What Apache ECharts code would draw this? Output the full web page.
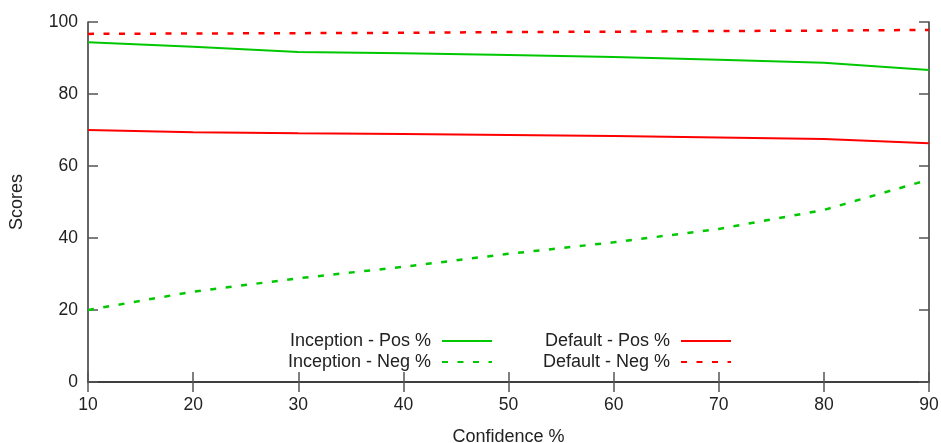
<!DOCTYPE html>
<html>
<head>
<meta charset="utf-8">
<script src="https://cdn.jsdelivr.net/npm/echarts@6/dist/echarts.min.js"></script>
<style>
  html, body { margin: 0; padding: 0; background: #fff; }
  #chart { width: 941px; height: 443px; }
</style>
</head>
<body>
<div id="chart"></div>
<script>
// confidence thresholds (x)
var confidence = [10, 20, 30, 40, 50, 60, 70, 80, 90];
// scores
var inceptionPos = [94.4, 93.1, 91.7, 91.3, 90.8, 90.3, 89.5, 88.7, 86.7];
var inceptionNeg = [20.0, 25.1, 28.8, 32.0, 35.6, 38.8, 42.5, 47.8, 56.2];
var defaultPos = [70.0, 69.4, 69.1, 68.9, 68.6, 68.3, 67.9, 67.5, 66.3];
var defaultNeg = [96.7, 96.8, 96.9, 97.0, 97.2, 97.3, 97.5, 97.6, 97.8];

var GREEN = "#00c800";
var RED = "#ff0000";
var FONT = "Liberation Sans";

function pairs(ys) {
  return confidence.map(function (x, i) { return [x, ys[i]]; });
}

function makeSeries(name, ys, color, dashed) {
  return {
    name: name,
    type: "line",
    data: pairs(ys),
    symbol: "none",
    smooth: false,
    xAxisIndex: 0,
    yAxisIndex: 0,
    lineStyle: {
      color: color,
      width: dashed ? 2.5 : 2,
      type: dashed ? [6, 9.5] : "solid",
    },
    itemStyle: { color: color },
  };
}

var axisLine = { show: true, lineStyle: { color: "#333", width: 1.5 } };
var axisTick = { show: true, inside: true, length: 10, lineStyle: { color: "#555", width: 1.5 } };

function legendBlock(names, right) {
  return {
    orient: "vertical",
    align: "right",
    right: right,
    top: 327,
    data: names,
    itemWidth: 50,
    itemHeight: 14,
    itemGap: 3,
    itemStyle: { opacity: 0 },
    formatter: "{a|{name}}",
    textStyle: {
      fontFamily: FONT,
      fontSize: 18,
      color: "#222",
      rich: { a: { fontFamily: FONT, fontSize: 18, color: "#222", padding: [0, 6, 0, 0] } },
    },
  };
}

var chart = echarts.init(document.getElementById("chart"));
var option = {
  animation: false,
  backgroundColor: "#fff",
  grid: { left: 88, right: 12, top: 22, bottom: 61, outerBoundsMode: "none" },
  legend: [
    legendBlock(["Inception - Pos %", "Inception - Neg %"], 443),
    legendBlock(["Default - Pos %", "Default - Neg %"], 204),
  ],
  xAxis: [
    {
      type: "value",
      min: 10,
      max: 90,
      interval: 10,
      name: "Confidence %",
      nameLocation: "middle",
      nameGap: 46,
      nameTextStyle: { fontFamily: FONT, fontSize: 18, color: "#222" },
      axisLine: axisLine,
      axisTick: axisTick,
      splitLine: { show: false },
      axisLabel: { fontFamily: FONT, fontSize: 17.5, color: "#222", margin: 14 },
    },
    {
      type: "value",
      position: "top",
      min: 10,
      max: 90,
      interval: 10,
      axisLine: axisLine,
      axisTick: axisTick,
      splitLine: { show: false },
      axisLabel: { show: false },
    },
  ],
  yAxis: [
    {
      type: "value",
      min: 0,
      max: 100,
      interval: 20,
      name: "Scores",
      nameLocation: "middle",
      nameGap: 62,
      nameTextStyle: { fontFamily: FONT, fontSize: 18, color: "#222" },
      axisLine: axisLine,
      axisTick: axisTick,
      splitLine: { show: false },
      axisLabel: { fontFamily: FONT, fontSize: 17.5, color: "#222", margin: 10 },
    },
    {
      type: "value",
      position: "right",
      min: 0,
      max: 100,
      interval: 20,
      axisLine: axisLine,
      axisTick: axisTick,
      splitLine: { show: false },
      axisLabel: { show: false },
    },
  ],
  series: [
    makeSeries("Inception - Pos %", inceptionPos, GREEN, false),
    makeSeries("Inception - Neg %", inceptionNeg, GREEN, true),
    makeSeries("Default - Pos %", defaultPos, RED, false),
    makeSeries("Default - Neg %", defaultNeg, RED, true),
  ],
};
chart.setOption(option);
</script>
</body>
</html>
